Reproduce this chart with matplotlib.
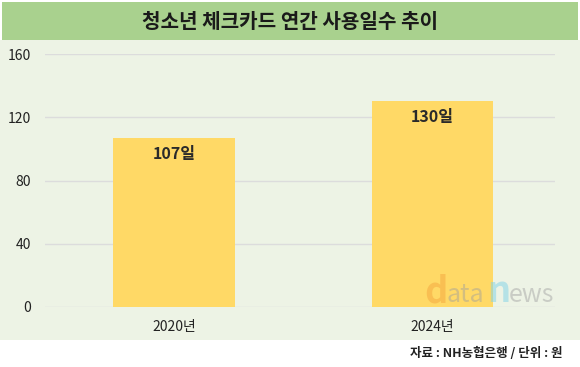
import matplotlib
matplotlib.use("Agg")
import matplotlib.pyplot as plt
from matplotlib.patches import Rectangle

plt.rcParams['font.family'] = ['Noto Sans CJK KR', 'DejaVu Sans']

# data
years = ["2020년", "2024년"]
days = [107, 130]
day_labels = ["107일", "130일"]
yticks = [0, 40, 80, 120, 160]

W, H = 580, 367
fig = plt.figure(figsize=(W / 100, H / 100), dpi=100)
fig.patch.set_facecolor("white")

# light green panel + title band (behind the axes)
fig.patches.append(Rectangle((0, (H - 340) / H), 1, (340 - 40) / H,
                             transform=fig.transFigure, facecolor="#EDF3E5",
                             edgecolor="none", zorder=-2))
fig.patches.append(Rectangle((2 / W, (H - 40) / H), 576 / W, 38 / H,
                             transform=fig.transFigure, facecolor="#A9D18E",
                             edgecolor="none", zorder=-1))
fig.text(0.5, (H - 21) / H, "청소년 체크카드 연간 사용일수 추이", ha="center", va="center",
         fontsize=14.5, fontweight="bold", color="#1a1a1a")

ax = fig.add_axes([45 / W, 60 / H, 510 / W, 253 / H])
ax.set_facecolor("none")
x = list(range(len(years)))
ax.bar(x, days, width=0.47, color="#FFD966", zorder=2)
ax.set_ylim(0, 160)
ax.set_xlim(-0.499, 1.474)
ax.set_yticks(yticks)
ax.grid(axis="y", color="#DCDCDC", linewidth=1.0, zorder=1)
for s in ax.spines.values():
    s.set_visible(False)
ax.tick_params(length=0)
ax.tick_params(axis="y", pad=10, labelsize=10, labelcolor="#222222")
ax.set_xticks(x)
ax.set_xticklabels(years, fontsize=10, color="#222222")
ax.tick_params(axis="x", pad=9)

for xi, v, lab in zip(x, days, day_labels):
    ax.text(xi, v - 10, lab, ha="center", va="center", fontsize=11.5,
            fontweight="bold", color="#2a2a2a", zorder=3)

# watermark
wm_y = (H - 292) / H
fig.text(424 / W, wm_y, "d", fontsize=26, color="#F4A640", alpha=0.5,
         fontweight="bold", ha="left", va="center")
fig.text(447 / W, wm_y - 0.008, "ata", fontsize=18, color="#9E9E9E", alpha=0.45,
         ha="left", va="center")
fig.text(487 / W, wm_y, "n", fontsize=26, color="#7FD3E8", alpha=0.5,
         fontweight="bold", ha="left", va="center")
fig.text(509 / W, wm_y - 0.008, "ews", fontsize=18, color="#9E9E9E", alpha=0.45,
         ha="left", va="center")

fig.text(562 / W, (H - 353) / H, "자료 : NH농협은행 / 단위 : 원", ha="right", va="center",
         fontsize=9, fontweight="bold", color="#222222")

fig.savefig("out.png", dpi=100)
